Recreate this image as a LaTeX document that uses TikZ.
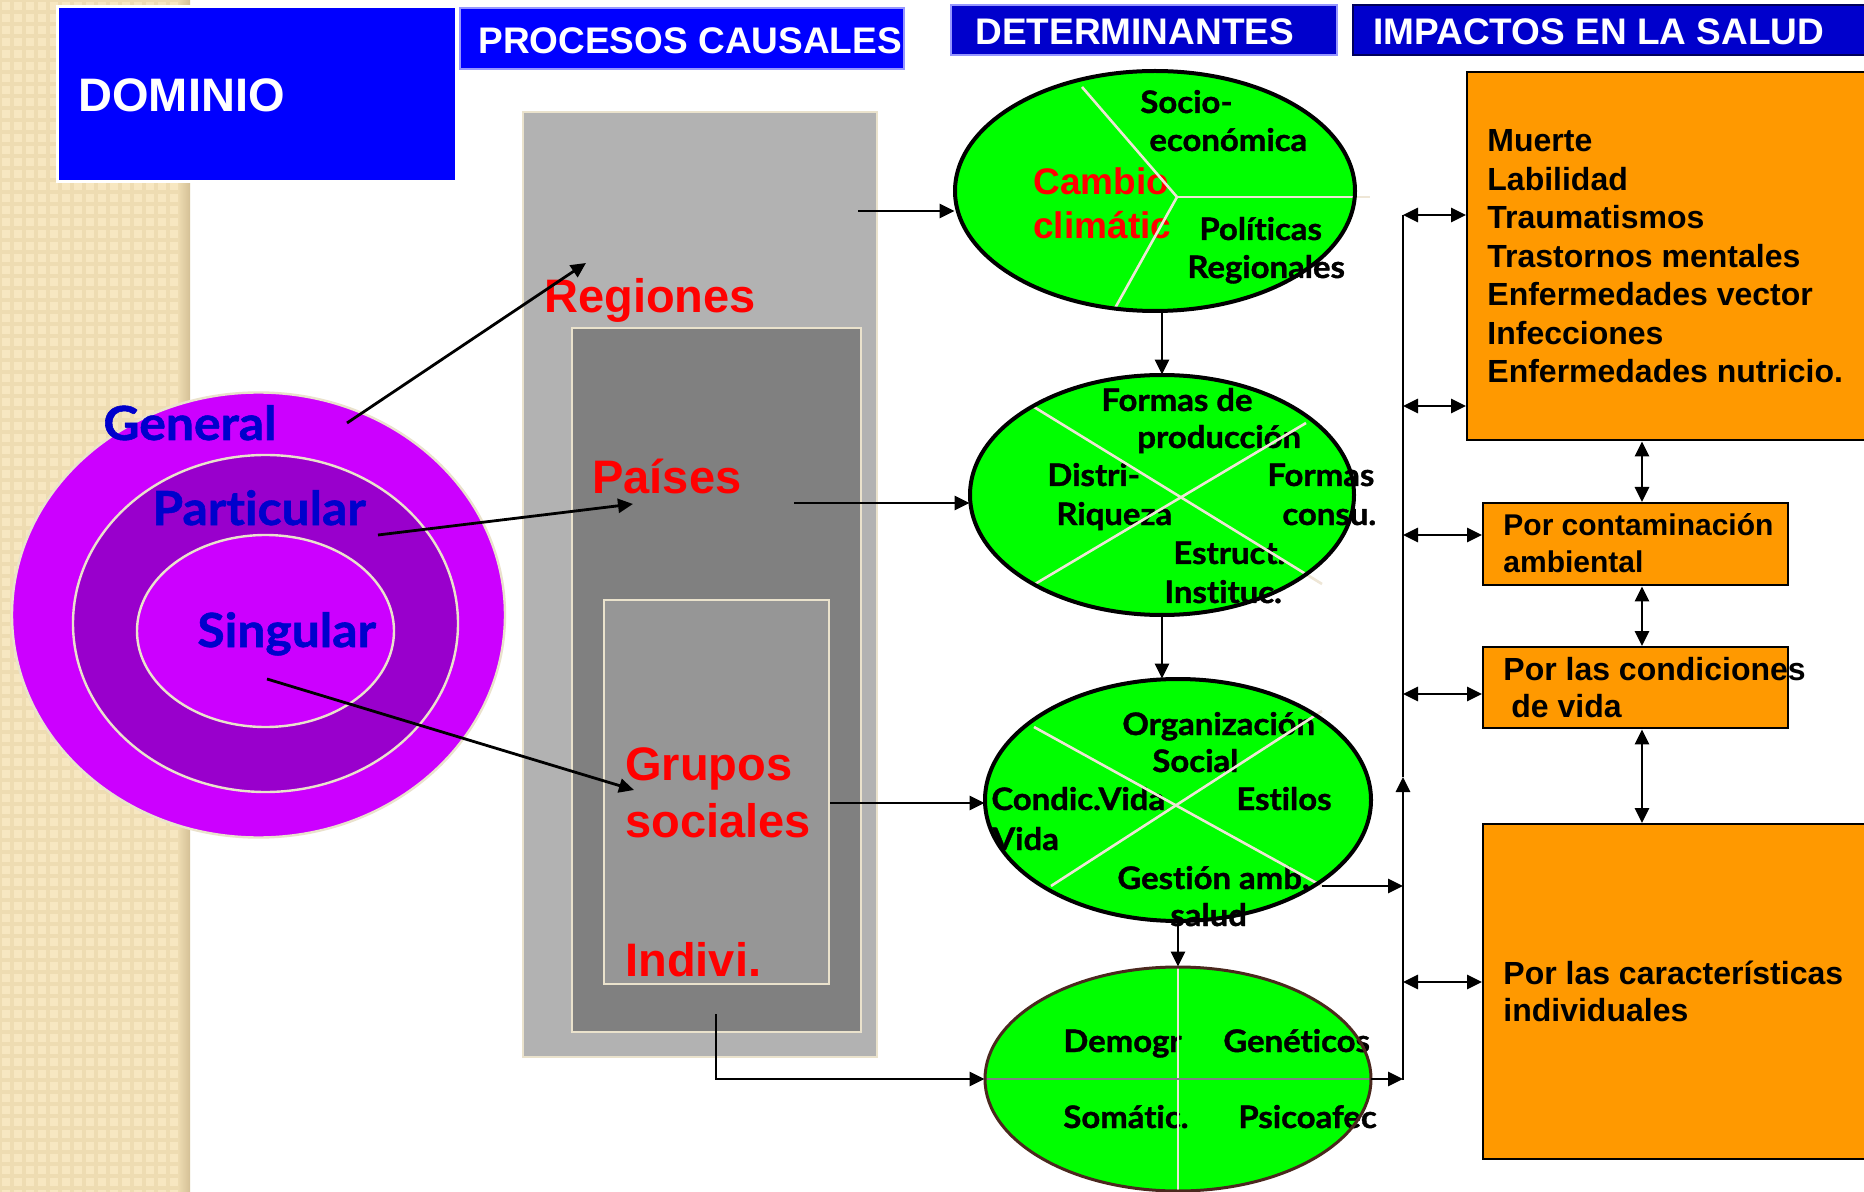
\documentclass[tikz,border=0pt]{standalone}
\usepackage{fontspec}
\setmainfont{Liberation Sans}
\newfontfamily\gill[FakeStretch=1.06,FakeBold=1.2,Ligatures={NoCommon,NoDiscretionary,NoRare}]{Lato}
\usetikzlibrary{arrows.meta,shapes.geometric}
\definecolor{strip}{RGB}{238,220,178}
\definecolor{stripl}{RGB}{247,231,193}
\definecolor{stripd}{RGB}{212,192,150}
\definecolor{hblue}{RGB}{0,0,255}
\definecolor{dblue}{RGB}{0,0,204}
\definecolor{navy}{RGB}{0,0,90}
\definecolor{lblue}{RGB}{150,150,255}
\definecolor{gA}{RGB}{178,178,178}
\definecolor{gB}{RGB}{128,128,128}
\definecolor{gC}{RGB}{150,150,150}
\definecolor{beige}{RGB}{234,226,204}
\definecolor{pA}{RGB}{204,0,255}
\definecolor{pB}{RGB}{153,0,204}
\definecolor{grn}{RGB}{0,255,0}
\definecolor{org}{RGB}{255,153,0}
\definecolor{divc}{RGB}{238,230,214}
\definecolor{brn}{RGB}{75,40,30}
\definecolor{red1}{RGB}{255,0,0}
\begin{document}
\begin{tikzpicture}[x=0.5pt,y=-0.5pt,
  conn/.style={line width=1.4pt,-{Triangle[length=7.5pt,width=7pt]}},
  dconn/.style={line width=1.4pt,{Triangle[length=7.5pt,width=7pt]}-{Triangle[length=7.5pt,width=7pt]}},
  bline/.style={line width=1.4pt},
  hdrbox/.style={anchor=north west,inner sep=0,outer sep=0},
  htxt/.style={inner sep=0,anchor=base west,text=white,font=\bfseries\fontsize{18.5}{22}\selectfont},
  grect/.style={anchor=north west,draw=beige,line width=1.2pt,inner sep=0},
  pell/.style={ellipse,draw=beige,line width=1.2pt,inner sep=0},
  gell/.style={ellipse,fill=grn,inner sep=0},
  divl/.style={draw=divc,line width=1.3pt},
  etxt/.style={inner sep=0,anchor=base west,font=\gill\bfseries\fontsize{15.5}{18}\selectfont},
  bluetxt/.style={inner sep=0,anchor=base west,text=dblue,font=\gill\bfseries\fontsize{23.5}{27}\selectfont},
  redtxt/.style={inner sep=0,anchor=base west,text=red1,font=\bfseries\fontsize{23.5}{28}\selectfont},
  obox/.style={anchor=north west,fill=org,draw=black,line width=1.2pt,inner sep=0},
  otxt/.style={inner sep=0,anchor=base west,font=\bfseries\fontsize{16}{19}\selectfont},
]
\useasboundingbox (0,0) rectangle (1864,1192);
\fill[white] (0,0) rectangle (1864,1192);
% left textured strip
\fill[strip] (0,0) rectangle (190,1192);
\foreach \i in {0,...,15}{\foreach \j in {0,...,99}{\fill[stripl] ({\i*12+2},{\j*12+2}) rectangle ++(8,8);}}
\shade[left color=strip,right color=stripd] (178,0) rectangle (190,1192);

% header boxes
\node[hdrbox,fill=hblue,draw=white,line width=1.5pt,minimum width=199.5pt,minimum height=87.5pt] (dom) at (57,7) {};
\node[inner sep=0,anchor=base west,text=white,font=\bfseries\fontsize{23.5}{28}\selectfont] (domt) at (78,112) {DOMINIO};
\node[hdrbox,fill=hblue,draw=lblue,line width=0.6pt,minimum width=222pt,minimum height=30.5pt] (proc) at (460,8) {};
\node[htxt] (proct) at (478,54) {PROCESOS CAUSALES};
\node[hdrbox,fill=dblue,draw=lblue,line width=0.6pt,minimum width=193pt,minimum height=25pt] (det) at (951,5) {};
\node[htxt] (dett) at (975,45) {DETERMINANTES};
\node[hdrbox,fill=dblue,draw=navy,line width=1pt,minimum width=263.5pt,minimum height=25pt] (imp) at (1353,5) {};
\node[htxt] (impt) at (1373,45) {IMPACTOS EN LA SALUD};

% gray nested rectangles
\node[grect,fill=gA,minimum width=177pt,minimum height=472.5pt] (rA) at (522,111) {};
\node[grect,fill=gB,minimum width=144.5pt,minimum height=352pt] (rB) at (571,327) {};
\node[grect,fill=gC,minimum width=112.5pt,minimum height=192pt] (rC) at (603,599) {};
\node[redtxt] (reg) at (544,313) {Regiones};
\node[redtxt] (pai) at (592,494) {Países};
\node[redtxt] (gru) at (625,780) {Grupos};
\node[redtxt] (soc) at (625,837) {sociales};
\node[redtxt] (ind) at (625,976) {Indivi.};

% purple domain ellipses
\node[pell,fill=pA,minimum width=246.5pt,minimum height=222.5pt] (pO) at (258.5,615) {};
\node[pell,fill=pB,minimum width=192.5pt,minimum height=168.5pt] (pM) at (265.5,623.5) {};
\node[pell,fill=pA,minimum width=128.5pt,minimum height=96pt] (pI) at (265.5,631) {};
\node[bluetxt] (gen) at (103,440) {General};
\node[bluetxt] (par) at (152,525) {Particular};
\node[bluetxt] (sin) at (197,647) {Singular};

% arrows from domains to processes
\coordinate (ga) at (347,423); \coordinate (gat) at (586,263);
\coordinate (pa) at (378,535); \coordinate (pat) at (633,504);
\coordinate (sa) at (267,679); \coordinate (sat) at (634,790);
\draw[conn] (ga) -- (gat);
\draw[conn] (pa) -- (pat);
\draw[conn] (sa) -- (sat);

% green determinant ellipses
\node[gell,minimum width=200pt,minimum height=120pt] (e1) at (1155,191) {};
\node[gell,minimum width=192pt,minimum height=120pt] (e2) at (1162,495) {};
\node[gell,minimum width=193pt,minimum height=121pt] (e3) at (1178,800) {};
\node[gell,minimum width=193pt,minimum height=112pt] (e4) at (1178,1079) {};

% E1 texts
\node[etxt] (t11) at (1140,113) {Socio-};
\node[etxt] (t12) at (1149,151) {económica};
\node[inner sep=0,anchor=base west,text=red1,font=\bfseries\fontsize{18.5}{22}\selectfont] (t13) at (1033,195) {Cambio};
\node[inner sep=0,anchor=base west,text=red1,font=\bfseries\fontsize{18.5}{22}\selectfont] (t14) at (1033,239) {climátic};
\node[etxt] (t15) at (1199,240) {Políticas};
\node[etxt] (t16) at (1187,278) {Regionales};
% E2 texts
\node[etxt] (t21) at (1101,411) {Formas de};
\node[etxt] (t22) at (1137,448) {producción};
\node[etxt] (t23) at (1047,486) {Distri-};
\node[etxt] (t24) at (1056,525) {Riqueza};
\node[etxt] (t25) at (1267,486) {Formas};
\node[etxt] (t26) at (1282,525) {consu.};
\node[etxt] (t27) at (1173,564) {Estruct.};
\node[etxt] (t28) at (1164,603) {Instituc.};
% E3 texts
\node[etxt] (t31) at (1122,735) {Organización};
\node[etxt] (t32) at (1152,772) {Social};
\node[etxt] (t33) at (991,810) {Condic.Vida};
\node[etxt] (t34) at (992,850) {Vida};
\node[etxt] (t35) at (1236,810) {Estilos};
\node[etxt] (t36) at (1117,889) {Gestión amb.};
\node[etxt] (t37) at (1170,926) {salud};
% E4 texts
\node[etxt] (t41) at (1063,1052) {Demogr};
\node[etxt] (t42) at (1223,1052) {Genéticos};
\node[etxt] (t43) at (1063,1128) {Somátic.};
\node[etxt] (t44) at (1238,1128) {Psicoafec};

% dividers
\coordinate (j1) at (1177,197);
\draw[divl] (1082,87) -- (j1) -- (1114,310);
\draw[divl] (j1) -- (1370,197);
\draw[divl] (1034,407) -- (1322,584);
\draw[divl] (1035,584) -- (1306,423);
\draw[divl] (1034,727) -- (1322,886);
\draw[divl] (1051,886) -- (1322,711);
\draw[divl] (e4.north) -- (e4.south);
\draw[draw=gB,line width=1.3pt] (e4.west) -- (e4.east);

% ellipse outlines
\draw[line width=2pt] (e1.center) ellipse [x radius=100pt,y radius=60pt];
\draw[line width=2pt] (e2.center) ellipse [x radius=96pt,y radius=60pt];
\draw[line width=2pt] (e3.center) ellipse [x radius=96.5pt,y radius=60.5pt];
\draw[draw=brn,line width=1.5pt] (e4.center) ellipse [x radius=96.5pt,y radius=56pt];

% arrows processes -> determinants
\coordinate (rg) at (858,211);
\coordinate (ps) at (794,503);
\coordinate (gs) at (830,803);
\coordinate (iv) at (716,1014);
\draw[conn] (rg) -- (rg -| e1.west);
\draw[conn] (ps) -- (ps -| e2.west);
\draw[conn] (gs) -- (gs -| e3.west);
\draw[conn] (iv) |- (e4.west);

% arrows between determinants
\draw[conn] (e2.north |- e1.south) -- (e2.north);
\draw[conn] (e2.south) -- (e2.south |- e3.north);
\draw[conn] (e3.south) -- (e4.north);

% impact boxes
\node[obox,minimum width=207pt,minimum height=184pt] (b1) at (1466,71) {};
\node[obox,minimum width=152.5pt,minimum height=41pt] (b2) at (1482,502) {};
\node[obox,minimum width=152.5pt,minimum height=40.5pt] (b3) at (1482,646) {};
\node[obox,minimum width=199pt,minimum height=167.5pt] (b4) at (1482,823) {};
\foreach \t [count=\k] in {Muerte,Labilidad,Traumatismos,Trastornos mentales,Enfermedades vector,Infecciones,Enfermedades nutricio.}
  \node[otxt] (m\k) at (1487,{152+38.5*(\k-1)}) {\t};
\node[otxt,font=\bfseries\fontsize{15}{18}\selectfont] (c1) at (1503,536) {Por contaminación};
\node[otxt,font=\bfseries\fontsize{15}{18}\selectfont] (c2) at (1503,573) {ambiental};
\node[otxt] (v1) at (1503,680) {Por las condiciones};
\node[otxt] (v2) at (1511,717) {de vida};
\node[otxt] (i1) at (1503,984) {Por las características};
\node[otxt] (i2) at (1503,1021) {individuales};

% bus
\coordinate (bt) at (1403,215);
\coordinate (bm) at (1403,777);
\coordinate (bb) at (1403,1080);
\coordinate (y2) at (1403,406);
\coordinate (y3) at (1403,535);
\coordinate (y4) at (1403,694);
\coordinate (y5) at (1403,982);
\coordinate (e3o) at (1322,886);
\draw[conn] (bb) -- (bm);
\draw[bline] (bm) -- (bt);
\draw[conn] (e4.east) -- (e4.east -| bb);
\draw[conn] (e3o) -- (e3o -| bb);
\draw[dconn] (bt) -- (bt -| b1.west);
\draw[dconn] (y2) -- (y2 -| b1.west);
\draw[dconn] (y3) -- (y3 -| b2.west);
\draw[dconn] (y4) -- (y4 -| b3.west);
\draw[dconn] (y5) -- (y5 -| b4.west);
\coordinate (vx) at (1642,0);
\draw[dconn] (b1.south -| vx) -- (b2.north -| vx);
\draw[dconn] (b2.south -| vx) -- (b3.north -| vx);
\draw[dconn] (b3.south -| vx) -- (b4.north -| vx);
\end{tikzpicture}
\end{document}
